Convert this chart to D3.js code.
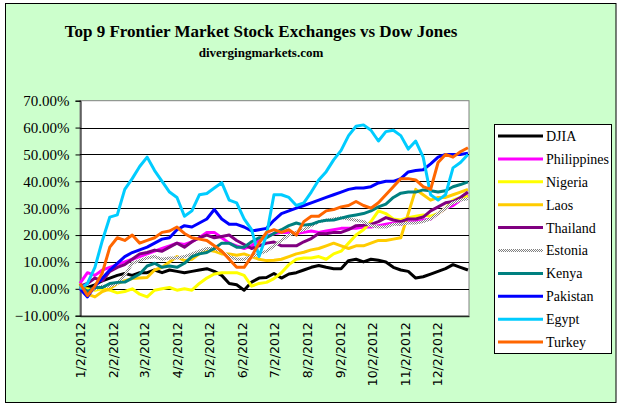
<!DOCTYPE html>
<html>
<head>
<meta charset="utf-8">
<script src="https://cdn.jsdelivr.net/npm/d3@7"></script>
<style>
  html, body { margin: 0; padding: 0; background: #ffffff; }
  svg { display: block; }
</style>
</head>
<body>
<div id="chart"></div>
<script>
// ---------- DATA (weekly samples, % change since 1/2/2012) ----------
const dates = ["2012-01-02","2012-01-09","2012-01-16","2012-01-23","2012-01-30","2012-02-06","2012-02-13","2012-02-20","2012-02-27",
  "2012-03-05","2012-03-12","2012-03-19","2012-03-26","2012-04-02","2012-04-09","2012-04-16","2012-04-23","2012-04-30",
  "2012-05-07","2012-05-14","2012-05-21","2012-05-28","2012-06-04","2012-06-11","2012-06-18","2012-06-25","2012-07-02",
  "2012-07-09","2012-07-16","2012-07-23","2012-07-30","2012-08-06","2012-08-13","2012-08-20","2012-08-27","2012-09-03",
  "2012-09-10","2012-09-17","2012-09-24","2012-10-01","2012-10-08","2012-10-15","2012-10-22","2012-10-29","2012-11-05",
  "2012-11-12","2012-11-19","2012-11-26","2012-12-03","2012-12-10","2012-12-17","2012-12-24","2012-12-31"];

const seriesNames = ["DJIA","Philippines","Nigeria","Laos","Thailand","Estonia","Kenya","Pakistan","Egypt","Turkey"];

const djia = [0,0.5,1.5,3,4,5,5.7,5,6,6,7,6,7,6.5,6,6.5,7,7.5,6.5,5,2,1.5,-0.5,2.5,4,4.2,5.7,4,5.5,6,7,8,8.7,8,7.5,7.5,10.5,11,10,11,10.6,10,8,7,6.5,4,4.5,5.5,6.5,7.5,9,8,7];
const philippines = [2,6,5,7,8,9,10,11,12,13,14,15,16,17,16.5,17.5,19,21,21,19,17,16,15,16,18,19.5,20.5,21,21,20.6,21,21.5,21,21.5,22,22.5,22.5,22.5,23,23,23.5,24,24.5,24,25,25,25.5,26,28,30,31,33,35];
const nigeria = [0,0,-0.5,0,-0.5,-1.5,-1,0,-2,-3,-0.5,0,0.5,-0.5,0,-0.5,2,4,5.5,6,6,6,5,1,2,2.4,3.8,6,9,11,11.5,11.5,12,11,13,14,17,20,22,25,29,28,26,25.6,26.5,27,27.5,27,28,30,33,34,34.5];
const laos = [0,-2,-3,-1,0,2,3,3.8,4,4.2,7,8,10,12,10.5,11,13,14.5,14,13,13,12.5,13,12,11,10.5,10.6,11,12,13,13.6,14.5,15,16,17,16,15,16,16,17,18,18,18.5,19,28,37,35,33,34,34,35,36,37];
const thailand = [1,2,4,3,6.5,8,9,11,13,13.5,14.4,14,15.5,17,15.5,17.5,19,20,19,19.5,20,18,16.5,15,16,17,17.4,16,16,16,17.5,18.7,20.6,20.5,21,21,22,23.5,23.7,24,25,26.5,25.6,25,26,26,26.7,29,30.5,32,32.5,34,36];
const estonia = [0,-1,0,1,1,2,5,9.5,10.5,11.5,12,11,11.5,11.5,12,13,14,15,15,14,12,11,11,12,13,14,16,18,20,21,22,23.5,25,25.5,26,26.5,26,25.5,25,23.5,23,23,24,24,24.5,24.5,25,26,28,30,32,33,33.5];
const kenya = [1,-1,0.5,0.5,2,2.4,2.5,4,5.5,8.5,9.5,8,8.5,8,9.5,12,13,13.5,15,17,17,15.5,15.5,17.5,19,19,20.6,22,23.5,24.5,23.7,24,25,25.5,25.6,26.3,27,27.5,28,29,30.5,31.5,34,35.6,36,36,36.8,36.5,36,36.5,38,38.8,39.8];
const pakistan = [0,-3,1,4,7,9.5,12,13.5,14.5,15.5,17,18.5,19,22,23.5,23,24.5,26,29.5,26,24,24,23,21.5,22,22.5,25.5,28,29,30,31,32,33,34,35,36,37,37.5,37.5,38,39.4,40,40,41,43.5,44,44.3,46.5,49,50,50,50,50.5];
const egypt = [0,2,8,18,26.7,27.5,37,41,45.5,49,44,40,36,34,27,29,35,35.5,37.5,39.5,33,32,26,22,12,20,35,35,34,31,32,36,40.5,43.6,48,51.5,57,60.5,61,59,55,58.5,59,57,52,55,49,35,33,35,45,47,50];
const turkey = [2,-2.5,1,6,15.5,19,18,20,17,18,19,21,21.5,23,20.6,19,18.5,18,16,14,11,8,8,12,17,21,22,21,22,20,25,27,27,29,29.5,30.5,31,32.5,31,30,32,35,38,41,41,40.5,38,37,47,50,49,51,52.5];

const seriesValues = [djia, philippines, nigeria, laos, thailand, estonia, kenya, pakistan, egypt, turkey];
const seriesColors = ["#000000","#FF00FF","#FFFF00","#FFCC00","#800080","url(#checker)","#008080","#0000FF","#00CCFF","#FF6600"];

const yTicks = [-10,0,10,20,30,40,50,60,70];
const xTickLabels = ["1/2/2012","2/2/2012","3/2/2012","4/2/2012","5/2/2012","6/2/2012","7/2/2012","8/2/2012","9/2/2012","10/2/2012","11/2/2012","12/2/2012"];

const titleText = "Top 9 Frontier Market Stock Exchanges vs Dow Jones";
const subtitleText = "divergingmarkets.com";

// ---------- LAYOUT ----------
const W = 622, H = 409;
const plot = { left: 80, right: 469, top: 100.7, bottom: 315.7 };

const svg = d3.select("#chart").append("svg").attr("width", W).attr("height", H);

const defs = svg.append("defs");
const pat = defs.append("pattern").attr("id","checker").attr("patternUnits","userSpaceOnUse")
  .attr("width",2).attr("height",2);
pat.append("rect").attr("width",2).attr("height",2).attr("fill","#ffffff");
pat.append("rect").attr("x",0).attr("y",0).attr("width",1).attr("height",1).attr("fill","#808080");
pat.append("rect").attr("x",1).attr("y",1).attr("width",1).attr("height",1).attr("fill","#808080");

// chart area
svg.append("rect").attr("x",5.5).attr("y",3.5).attr("width",610.5).attr("height",399)
  .attr("fill","#CCFFCC").attr("stroke","#000").attr("stroke-width",1);

// plot area
svg.append("rect").attr("x",plot.left).attr("y",plot.top).attr("width",plot.right-plot.left)
  .attr("height",plot.bottom-plot.top).attr("fill","#ffffff").attr("stroke","#808080").attr("stroke-width",1);

const parse = d3.timeParse("%Y-%m-%d");
const x = d3.scaleTime().domain([parse("2012-01-02"), parse("2013-01-01")]).range([plot.left, plot.right]);
const y = d3.scaleLinear().domain([-10,70]).range([plot.bottom, plot.top]);

// gridlines
svg.append("g").selectAll("line").data(yTicks.filter(v => v > -10 && v < 70)).join("line")
  .attr("x1",plot.left).attr("x2",plot.right)
  .attr("y1",d => Math.round(y(d))+0.5).attr("y2",d => Math.round(y(d))+0.5)
  .attr("stroke","#000").attr("stroke-width",1);

// y axis
const yAxis = d3.axisLeft(y).tickValues(yTicks).tickSize(5).tickPadding(6)
  .tickFormat(d => d3.format(".2f")(d) + "%");
const gy = svg.append("g").attr("transform",`translate(${plot.left+0.5},0)`).call(yAxis);
gy.select(".domain").attr("stroke","#000");
gy.selectAll("line").attr("stroke","#000");
gy.selectAll("text").attr("font-family","'Liberation Serif','Times New Roman',serif")
  .attr("font-size",15).attr("fill","#000");

// x axis
const xTickDates = xTickLabels.map(s => d3.timeParse("%-m/%-d/%Y")(s));
const xAxis = d3.axisBottom(x).tickValues(xTickDates).tickSize(0).tickPadding(0)
  .tickFormat(d3.timeFormat("%-m/%-d/%Y"));
const gx = svg.append("g").attr("transform",`translate(0,${plot.bottom+0.5})`).call(xAxis);
gx.select(".domain").attr("stroke","#000");
gx.selectAll("line").remove();
gx.selectAll("text")
  .attr("font-family","'DejaVu Sans',Verdana,sans-serif").attr("font-size",12.5).attr("fill","#000")
  .attr("transform","rotate(-90)").attr("text-anchor","end")
  .attr("x",-6).attr("y",0).attr("dy","0.35em");

// lines
const line = d3.line().x((d,i) => x(parse(dates[i]))).y(d => y(d));
const gl = svg.append("g");
seriesValues.forEach((vals, si) => {
  gl.append("path").datum(vals).attr("d", line)
    .attr("fill","none").attr("stroke", seriesColors[si]).attr("stroke-width",3)
    .attr("stroke-linejoin","round");
});

// legend
const lg = svg.append("g");
lg.append("rect").attr("x",494.5).attr("y",124.5).attr("width",117).attr("height",229)
  .attr("fill","#fff").attr("stroke","#000").attr("stroke-width",1);
seriesNames.forEach((name, i) => {
  const cy = 136 + i*22.9;
  lg.append("line").attr("x1",498).attr("x2",543).attr("y1",cy).attr("y2",cy)
    .attr("stroke",seriesColors[i]).attr("stroke-width",3);
  lg.append("text").attr("x",546).attr("y",cy).attr("dy","0.35em")
    .attr("font-family","'Liberation Serif','Times New Roman',serif").attr("font-size",14)
    .attr("fill","#000").text(name);
});

// titles
svg.append("text").attr("x",261).attr("y",37).attr("text-anchor","middle")
  .attr("font-family","'Liberation Serif','Times New Roman',serif").attr("font-weight","bold")
  .attr("font-size",17).attr("fill","#000").text(titleText);
svg.append("text").attr("x",261).attr("y",57).attr("text-anchor","middle")
  .attr("font-family","'Liberation Serif','Times New Roman',serif").attr("font-weight","bold")
  .attr("font-size",13).attr("fill","#000").text(subtitleText);
</script>
</body>
</html>
